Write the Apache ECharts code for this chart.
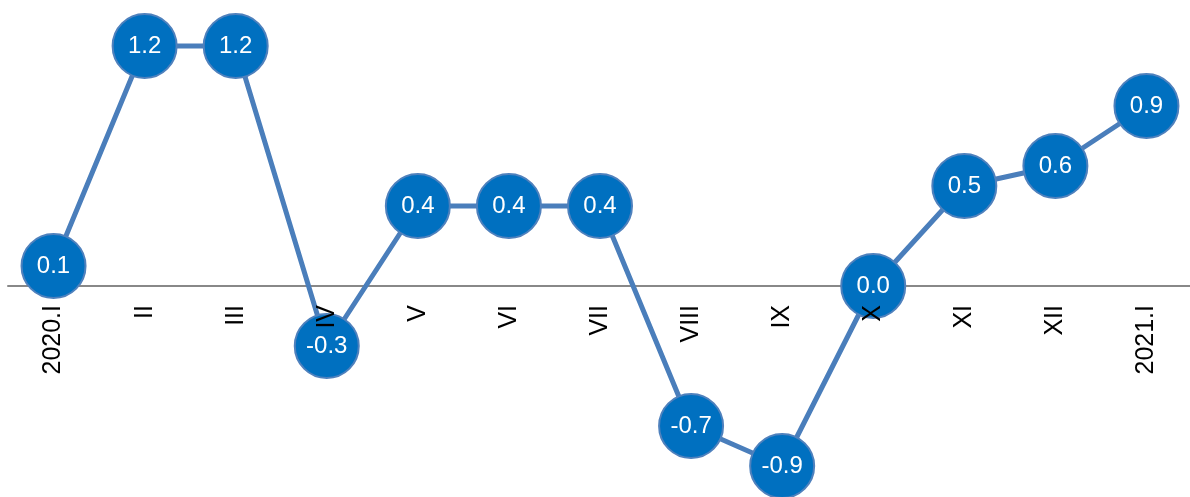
<!DOCTYPE html>
<html>
<head>
<meta charset="utf-8">
<script src="https://cdn.jsdelivr.net/npm/echarts@6/dist/echarts.min.js"></script>
<style>
  html, body { margin: 0; padding: 0; background: #fff; }
  #chart { width: 1190px; height: 497px; }
</style>
</head>
<body>
<div id="chart"></div>
<script>
const categories = ['2020.I', 'II', 'III', 'IV', 'V', 'VI', 'VII', 'VIII', 'IX', 'X', 'XI', 'XII', '2021.I']
const values = [0.1, 1.2, 1.2, -0.3, 0.4, 0.4, 0.4, -0.7, -0.9, 0.0, 0.5, 0.6, 0.9]

const font = '"Liberation Sans", Arial, sans-serif'
const chart = echarts.init(document.getElementById('chart'))
chart.setOption({
  animation: false,
  grid: [
    { left: 8, right: -2, top: 6, bottom: 11, containLabel: false, outerBoundsMode: 'none' },
    // second grid whose bottom edge sits on the zero line, only for the category labels
    { left: 8, right: -2, top: 6, bottom: 211, containLabel: false, outerBoundsMode: 'none' }
  ],
  xAxis: [
    {
      type: 'category',
      gridIndex: 0,
      data: categories,
      boundaryGap: true,
      axisLine: { onZero: true, lineStyle: { color: '#888', width: 2 } },
      axisTick: { show: false },
      axisLabel: { show: false }
    },
    {
      type: 'category',
      gridIndex: 1,
      data: categories,
      boundaryGap: true,
      position: 'bottom',
      z: 10,
      axisLine: { show: false },
      axisTick: { show: false },
      axisLabel: {
        rotate: 90,
        margin: 19,
        interval: 0,
        color: '#000',
        fontSize: 25,
        fontFamily: font
      }
    }
  ],
  yAxis: [
    { type: 'value', gridIndex: 0, min: -1, max: 1.4, show: false },
    { type: 'value', gridIndex: 1, min: 0, max: 1, show: false }
  ],
  series: [{
    type: 'line',
    data: values,
    symbol: 'circle',
    symbolSize: 64,
    showSymbol: true,
    showAllSymbol: true,
    z: 3,
    lineStyle: { color: '#4A7EBB', width: 5 },
    itemStyle: { color: '#0070C0', borderColor: '#4F81BD', borderWidth: 2 },
    label: {
      show: true,
      position: 'inside',
      color: '#fff',
      fontSize: 24,
      fontFamily: font,
      formatter: p => p.value.toFixed(1)
    }
  }]
})
</script>
</body>
</html>
